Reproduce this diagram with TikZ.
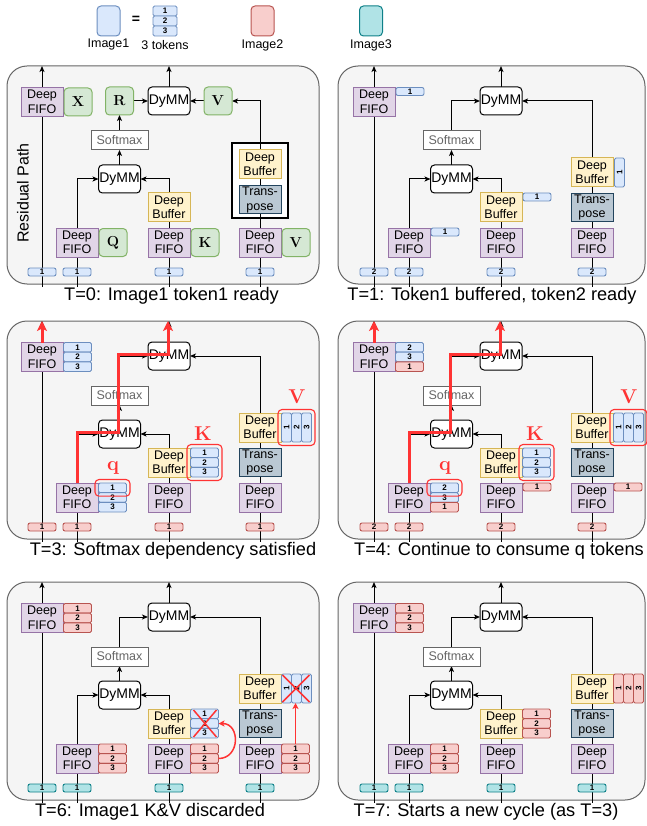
\RequirePackage{fix-cm}
\documentclass[tikz,border=0pt]{standalone}
\usepackage[no-math]{fontspec}
\setmainfont{Liberation Sans}
\usepackage{graphicx}
\usetikzlibrary{arrows.meta,calc,fit}
\definecolor{pnlF}{HTML}{F5F5F5}
\definecolor{pnlS}{HTML}{666666}
\definecolor{purF}{HTML}{E1D5E7}
\definecolor{purS}{HTML}{9673A6}
\definecolor{yelF}{HTML}{FFF2CC}
\definecolor{yelS}{HTML}{D6B656}
\definecolor{grnF}{HTML}{D5E8D4}
\definecolor{grnS}{HTML}{82B366}
\definecolor{trF}{HTML}{BAC8D3}
\definecolor{trS}{HTML}{23445D}
\definecolor{bluF}{HTML}{DAE8FC}
\definecolor{bluS}{HTML}{6C8EBF}
\definecolor{redF}{HTML}{F8CECC}
\definecolor{redS}{HTML}{B85450}
\definecolor{tealF}{HTML}{B0E3E6}
\definecolor{tealS}{HTML}{0E8088}
\definecolor{hot}{HTML}{FF3333}
\pgfdeclarelayer{back}
\pgfdeclarelayer{bg}
\pgfsetlayers{back,bg,main}
\tikzset{
  every node/.style={inner sep=0pt, outer sep=0pt},
  panel/.style={draw=pnlS, fill=pnlF, rounded corners=20pt, line width=1pt},
  blk/.style={minimum width=42pt, minimum height=29pt, align=center, font=\fontsize{12.5}{14.5}\selectfont, line width=1pt},
  fifo/.style={blk, draw=purS, fill=purF},
  dbuf/.style={blk, draw=yelS, fill=yelF},
  trp/.style={blk, draw=trS, fill=trF, minimum height=28pt},
  dymm/.style={draw=black, fill=white, rounded corners=4pt, minimum width=42pt, minimum height=28pt, font=\fontsize{14}{16}\selectfont, line width=1pt},
  smax/.style={draw=pnlS, fill=white, text=pnlS, minimum width=57pt, minimum height=19pt, font=\fontsize{12.5}{14}\selectfont, line width=1pt},
  gbox/.style={draw=grnS, fill=grnF, rounded corners=4pt, minimum size=28pt, font=\fontsize{14.5}{16}\selectfont, line width=1pt},
  tk/.style={rounded corners=2pt, minimum width=28pt, minimum height=8pt, font=\bfseries\fontsize{8}{8}\selectfont, line width=0.9pt},
  stk/.style={minimum width=28pt, minimum height=9.67pt, rounded corners=1.5pt, font=\bfseries\fontsize{8}{8}\selectfont, line width=0.9pt},
  vtk/.style={minimum width=10pt, minimum height=29pt, rounded corners=1.5pt, font=\bfseries\fontsize{8}{8}\selectfont, line width=0.9pt},
  cB/.style={draw=bluS, fill=bluF},
  cR/.style={draw=redS, fill=redF},
  cT/.style={draw=tealS, fill=tealF},
  arr/.style={line width=1pt, -{Stealth[length=6pt,width=5pt,inset=1.5pt]}},
  hotarr/.style={draw=hot, line width=3pt, -{Stealth[length=10pt,width=10pt,inset=2.5pt]}},
  hotthin/.style={draw=hot, line width=1.5pt, -{Stealth[length=6pt,width=6pt,inset=1.5pt]}},
  hotx/.style={draw=hot, line width=1.5pt},
  hl/.style={draw=hot, rounded corners=4pt, line width=1.1pt},
  hotlbl/.style={text=hot, font=\fontsize{20}{20}\selectfont},
  captxt/.style={font=\fontsize{18.2}{20}\selectfont},
  lgtxt/.style={font=\fontsize{12.5}{14}\selectfont},
  lgsq/.style={rounded corners=4pt, minimum width=23pt, minimum height=30pt, line width=1pt},
}
\newcommand\core[2]{%
  \node[fifo] (rf) at (42,102) {Deep\\FIFO};
  \node[dymm] (d1) at (169,101) {DyMM};
  \node[smax] (sm) at (119.5,140.5) {Softmax};
  \node[dymm] (d2) at (119.5,179) {DyMM};
  \node[fifo] (qf) at (77,242.5) {Deep\\FIFO};
  \node[dbuf] (kb) at (169,207.5) {Deep\\Buffer};
  \node[fifo] (kf) at (169,242.5) {Deep\\FIFO};
  \node[dbuf] (vb) at (260,172.5) {Deep\\Buffer};
  \node[trp] (vt) at (260,207.5) {Trans-\\pose};
  \node[fifo] (vf) at (260,242.5) {Deep\\FIFO};
  \node[tk,#1] (t1) at (42,272) {#2};
  \node[tk,#1] (t2) at (77,272) {#2};
  \node[tk,#1] (t3) at (169,272) {#2};
  \node[tk,#1] (t4) at (260,272) {#2};
  \coordinate (top) at (0,66);
  \coordinate (b1) at (42,287); \coordinate (b2) at (77,287);
  \coordinate (b3) at (169,287); \coordinate (b4) at (260,287);
  \begin{pgfonlayer}{bg}
    \draw[arr] (b1) -- (b1 |- top);
    \draw[arr] (b2) |- (d2.west);
    \draw[arr] (b3) |- (d2.east);
    \draw[arr] (d2.north) -- (sm.south);
    \draw[arr] (sm.north) |- (d1.west);
    \draw[arr] (b4) |- (d1.east);
    \draw[arr] (d1.north) -- (d1.north |- top);
  \end{pgfonlayer}
}
\newcommand\onetok[4]{%
  \node[tk,#3,anchor=north west] (#1) at ($(#2.north east)+(1,0)$) {#4};}
\newcommand\tkstack[8]{%
  \node[stk,#3,anchor=north west] (#1a) at ($(#2.north east)+(0.5,0)$) {#4};
  \node[stk,#5,anchor=north] (#1b) at (#1a.south) {#6};
  \node[stk,#7,anchor=north] (#1c) at (#1b.south) {#8};}
\newcommand\vstack[8]{%
  \node[vtk,#3,anchor=north west] (#1a) at ($(#2.north east)+(0.5,0)$) {\rotatebox{90}{#4}};
  \node[vtk,#5,anchor=west] (#1b) at (#1a.east) {\rotatebox{90}{#6}};
  \node[vtk,#7,anchor=west] (#1c) at (#1b.east) {\rotatebox{90}{#8}};}
\newcommand\hilite{%
  \node[hl,fit=(qsa),inner sep=3.5pt] (hq) {};
  \node[hl,fit=(ksa)(ksc),inner sep=3.5pt] (hk) {};
  \node[hl,fit=(vsa)(vsc),inner sep=3.5pt] (hv) {};
  \node[hotlbl] (lq) at (113,213) {$\mathbf{q}$};
  \node[hotlbl] (lk) at (203,179) {$\mathbf{K}$};
  \node[hotlbl] (lv) at (297,142) {$\mathbf{V}$};
  \coordinate (p1) at (118,177); \coordinate (p2) at (168,99);
  \draw[hotarr] (rf.north) -- (rf.north |- top);
  \draw[hotarr] (qf.north) |- (p1) |- (p2) -- (p2 |- top);}
\begin{document}
\begin{tikzpicture}[x=1pt,y=-1pt]
\useasboundingbox (0,0) rectangle (646,826);
% legend
\node[lgsq,cB] (l1) at (108.5,21) {};
\node[font=\bfseries\fontsize{14}{14}\selectfont] (leq) at (136,20) {=};
\node[stk,cB,minimum width=24pt,minimum height=10pt] (ls1) at (165,11) {1};
\node[stk,cB,minimum width=24pt,minimum height=10pt] (ls2) at (165,21) {2};
\node[stk,cB,minimum width=24pt,minimum height=10pt] (ls3) at (165,31) {3};
\node[lgsq,cR] (l2) at (262.5,21) {};
\node[lgsq,cT] (l3) at (371,21) {};
\node[lgtxt] (l1t) at (108.5,45) {Image1};
\node[lgtxt] (lst) at (165,45) {3 tokens};
\node[lgtxt] (l2t) at (262.5,45) {Image2};
\node[lgtxt] (l3t) at (371,45) {Image3};

% ---------------- T=0
\begin{scope}[name prefix=a-]
\begin{pgfonlayer}{back}\draw[panel] (7,66) rectangle (319,284);\end{pgfonlayer}
\node[fifo] (rf) at (42,102) {Deep\\FIFO};
\node[gbox,anchor=west] (gx) at ($(rf.east)+(1,0)$) {$\mathbf{X}$};
\node[gbox] (gr) at (119.5,101) {$\mathbf{R}$};
\node[dymm] (d1) at (169,101) {DyMM};
\node[gbox] (gv) at (218,101) {$\mathbf{V}$};
\node[smax] (sm) at (119.5,140.5) {Softmax};
\node[dymm] (d2) at (119.5,179) {DyMM};
\node[fifo] (qf) at (77,242.5) {Deep\\FIFO};
\node[gbox,anchor=west] (gq) at ($(qf.east)+(1,0)$) {$\mathbf{Q}$};
\node[dbuf] (kb) at (169,207.5) {Deep\\Buffer};
\node[fifo] (kf) at (169,242.5) {Deep\\FIFO};
\node[gbox,anchor=west] (gk) at ($(kf.east)+(1,0)$) {$\mathbf{K}$};
\node[dbuf] (vb) at (260,164.5) {Deep\\Buffer};
\node[trp] (vt) at (260,200) {Trans-\\pose};
\node[fifo] (vf) at (260,242.5) {Deep\\FIFO};
\node[gbox,anchor=west] (gw) at ($(vf.east)+(1,0)$) {$\mathbf{V}$};
\node[rotate=90,font=\fontsize{16}{16}\selectfont] (rp) at (23,193) {Residual Path};
\node[tk,cB] (t1) at (42,272) {1};
\node[tk,cB] (t2) at (77,272) {1};
\node[tk,cB] (t3) at (169,272) {1};
\node[tk,cB] (t4) at (260,272) {1};
\coordinate (top) at (0,66);
\coordinate (b1) at (42,287); \coordinate (b2) at (77,287);
\coordinate (b3) at (169,287); \coordinate (b4) at (260,287);
\begin{pgfonlayer}{bg}
\node[draw=black,fill=white,line width=1.1pt,minimum width=56pt,minimum height=75pt] (fr) at (260,180.5) {};
\draw[arr] (b1) -- (b1 |- top);
\draw[arr] (b2) |- (d2.west);
\draw[arr] (b3) |- (d2.east);
\draw[arr] (d2.north) -- (sm.south);
\draw[arr] (sm.north) -- (gr.south);
\draw[arr] (gr.east) -- (d1.west);
\draw[arr] (gv.west) -- (d1.east);
\draw[arr] (b4) |- (gv.east);
\draw[arr] (d1.north) -- (d1.north |- top);
\end{pgfonlayer}
\node[captxt] (cp) at (171.5,296) {T=0: Image1 token1 ready};
\end{scope}

% ---------------- T=1
\begin{scope}[shift={(332,0)},name prefix=b-]
\begin{pgfonlayer}{back}\draw[panel] (6,66) rectangle (313,284);\end{pgfonlayer}
\core{cB}{2}
\onetok{r1}{rf}{cB}{1}
\onetok{q1}{qf}{cB}{1}
\onetok{k1}{kb}{cB}{1}
\node[vtk,cB,anchor=north west] (v1) at ($(vb.north east)+(1.5,0)$) {\rotatebox{90}{1}};
\node[captxt] (cp) at (160,296) {T=1: Token1 buffered, token2 ready};
\end{scope}

% ---------------- T=3
\begin{scope}[shift={(0,255)},name prefix=c-]
\begin{pgfonlayer}{back}\draw[panel] (7,66) rectangle (319,284);\end{pgfonlayer}
\core{cR}{1}
\tkstack{rs}{rf}{cB}{1}{cB}{2}{cB}{3}
\tkstack{qs}{qf}{cB}{1}{cB}{2}{cB}{3}
\tkstack{ks}{kb}{cB}{1}{cB}{2}{cB}{3}
\vstack{vs}{vb}{cB}{1}{cB}{2}{cB}{3}
\hilite
\node[captxt] (cp) at (173,296) {T=3: Softmax dependency satisfied};
\end{scope}

% ---------------- T=4
\begin{scope}[shift={(332,255)},name prefix=d-]
\begin{pgfonlayer}{back}\draw[panel] (6,66) rectangle (313,284);\end{pgfonlayer}
\core{cR}{2}
\tkstack{rs}{rf}{cB}{2}{cB}{3}{cR}{1}
\tkstack{qs}{qf}{cB}{2}{cB}{3}{cR}{1}
\tkstack{ks}{kb}{cB}{1}{cB}{2}{cB}{3}
\vstack{vs}{vb}{cB}{1}{cB}{2}{cB}{3}
\onetok{k1}{kf}{cR}{1}
\onetok{v1}{vf}{cR}{1}
\hilite
\node[captxt] (cp) at (167,296) {T=4: Continue to consume q tokens};
\end{scope}

% ---------------- T=6
\begin{scope}[shift={(0,516)},name prefix=e-]
\begin{pgfonlayer}{back}\draw[panel] (7,66) rectangle (319,284);\end{pgfonlayer}
\core{cT}{1}
\tkstack{rs}{rf}{cR}{1}{cR}{2}{cR}{3}
\tkstack{qs}{qf}{cR}{1}{cR}{2}{cR}{3}
\tkstack{ks}{kb}{cB}{1}{cB}{2}{cB}{3}
\tkstack{fs}{kf}{cR}{1}{cR}{2}{cR}{3}
\vstack{vs}{vb}{cB}{1}{cB}{2}{cB}{3}
\tkstack{ws}{vf}{cR}{1}{cR}{2}{cR}{3}
\draw[hotx] ($(ksa.north west)+(3,1)$) -- ($(ksc.south east)+(-2,-1)$);
\draw[hotx] ($(ksa.north east)+(-2,1)$) -- ($(ksc.south west)+(3,-1)$);
\draw[hotx] ($(vsa.north west)+(1,1)$) -- ($(vsc.south east)+(-2,-1)$);
\draw[hotx] ($(vsc.north east)+(-2,1)$) -- ($(vsa.south west)+(1,-1)$);
\draw[hotthin] (fsb.east) to[out=0,in=0,looseness=1.6] (ksb.east);
\draw[hotthin] (wsa.north) -- (wsa.north |- vsb.south);
\node[captxt] (cp) at (150,296) {T=6: Image1 K\&V discarded};
\end{scope}

% ---------------- T=7
\begin{scope}[shift={(332,516)},name prefix=f-]
\begin{pgfonlayer}{back}\draw[panel] (6,66) rectangle (313,284);\end{pgfonlayer}
\core{cT}{1}
\tkstack{rs}{rf}{cR}{1}{cR}{2}{cR}{3}
\tkstack{qs}{qf}{cR}{1}{cR}{2}{cR}{3}
\tkstack{ks}{kb}{cR}{1}{cR}{2}{cR}{3}
\vstack{vs}{vb}{cR}{1}{cR}{2}{cR}{3}
\node[captxt] (cp) at (154,296) {T=7: Starts a new cycle (as T=3)};
\end{scope}
\end{tikzpicture}
\end{document}
